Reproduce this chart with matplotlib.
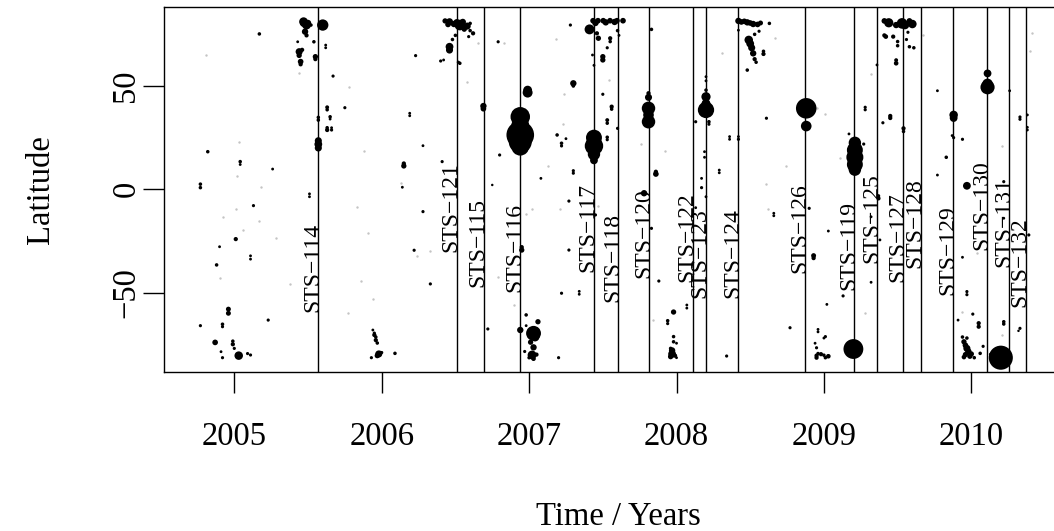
import matplotlib
matplotlib.use('Agg')
import matplotlib.pyplot as plt
import numpy as np

plt.rcParams['font.family'] = ['Liberation Serif', 'DejaVu Serif']

# shuttle launches (decimal year) and the latitude where each label starts
missions = ['STS-114', 'STS-121', 'STS-115', 'STS-116', 'STS-117', 'STS-118', 'STS-120',
            'STS-122', 'STS-123', 'STS-124', 'STS-126', 'STS-119', 'STS-125', 'STS-127',
            'STS-128', 'STS-129', 'STS-130', 'STS-131', 'STS-132']
launch_year = [2005.568, 2006.509, 2006.692, 2006.940, 2007.438, 2007.605, 2007.813,
               2008.110, 2008.198, 2008.419, 2008.874, 2009.206, 2009.360, 2009.537,
               2009.657, 2009.878, 2010.109, 2010.258, 2010.369]
label_lat = [-59.2, -30.2, -47.1, -49.6, -39.9, -54.4, -43.1, -44.7, -52.8, -52.8,
             -40.7, -48.7, -35.8, -44.7, -38.2, -51.2, -29.4, -37.5, -56.8]

# events: (year, latitude, size)
events_2005 = [
    (2004.77, 2.5, 1), (2004.77, 0.8, 1), (2004.82, 18.2, 1), (2005.04, 13.4, 1),
    (2005.04, 12.0, 0.8), (2005.26, 9.8, 0.8), (2005.17, 75.2, 1), (2005.51, -2.2, 0.8),
    (2005.51, -3.6, 0.8), (2005.13, -7.9, 0.9), (2005.01, -24.1, 1.2), (2004.90, -27.8, 0.8),
    (2005.11, -32.2, 0.8), (2005.11, -33.8, 0.8), (2004.88, -36.6, 1.0), (2004.96, -58.0, 1.4),
    (2004.96, -60.0, 1.4), (2005.23, -63.3, 0.9), (2004.77, -66.0, 0.9), (2004.92, -65.3, 1.0),
    (2004.92, -66.5, 0.9), (2004.87, -74.1, 1.6), (2004.99, -75.0, 1.2), (2004.99, -73.5, 1.0),
    (2005.03, -80.5, 2.4), (2004.92, -81.5, 0.9), (2004.91, -78.6, 0.8), (2005.09, -79.5, 0.9),
    (2005.11, -80.2, 0.9), (2005.00, -77.0, 0.9),
]
events_sts114 = [
    (2005.47, 81.1, 2.5), (2005.49, 79.5, 2.5), (2005.47, 80.3, 2), (2005.50, 80.5, 1.8),
    (2005.48, 76.3, 1.8), (2005.49, 74.5, 1.2), (2005.52, 79.5, 1.0), (2005.60, 79.5, 3.2),
    (2005.44, 66.6, 2.0), (2005.44, 64.8, 1.5), (2005.46, 67.5, 1.2), (2005.45, 61.8, 1.6),
    (2005.45, 60.5, 1.2), (2005.55, 64.2, 1.5), (2005.55, 63.0, 1.2), (2005.54, 71.4, 1.0),
    (2005.43, 71.4, 0.8), (2005.62, 69.8, 0.8), (2005.62, 68.5, 0.8), (2005.67, 54.8, 0.9),
    (2005.63, 39.7, 1.1), (2005.63, 38.5, 1.0), (2005.65, 35.1, 1.0), (2005.65, 34.0, 0.8),
    (2005.57, 34.8, 1.0), (2005.57, 33.5, 1.0), (2005.75, 39.5, 0.9), (2005.63, 28.7, 1.2),
    (2005.63, 29.8, 1.0), (2005.66, 28.7, 0.9), (2005.66, 29.8, 0.8), (2005.57, 21.8, 2.2),
    (2005.57, 23.5, 2.0), (2005.57, 20.0, 2.0),
]
events_2006 = [
    (2006.23, 64.7, 0.9), (2006.40, 62.1, 0.9), (2006.19, 36.8, 0.8), (2006.19, 35.6, 0.8),
    (2006.28, 21.1, 0.8), (2006.15, 11.3, 1.5), (2006.15, 12.5, 1.2), (2006.41, 13.4, 0.9),
    (2006.14, 1.0, 0.8), (2006.28, -10.8, 0.9), (2006.22, -29.5, 0.9), (2006.33, -45.8, 0.9),
    (2005.94, -68.1, 0.8), (2005.95, -69.6, 0.9), (2005.95, -70.5, 1.2), (2005.96, -71.5, 1.0),
    (2005.96, -73.0, 1.2), (2005.97, -74.4, 1.0), (2005.98, -79.7, 2.0), (2005.99, -79.2, 1.2),
    (2005.93, -81.5, 0.9), (2005.97, -80.5, 1.5), (2006.09, -79.4, 1.0), (2006.00, -79.0, 0.9),
]
events_sts121 = [
    (2006.46, 81.1, 2.0), (2006.43, 81.5, 1.5), (2006.45, 79.8, 1.6), (2006.49, 80.0, 1.8),
    (2006.53, 79.5, 3.0), (2006.51, 80.7, 2.0), (2006.55, 81.0, 1.8), (2006.58, 79.0, 2.0),
    (2006.56, 77.5, 1.5), (2006.62, 75.5, 1.2), (2006.60, 80.3, 1.0), (2006.46, 69.0, 2.2),
    (2006.46, 67.4, 2.0), (2006.48, 72.5, 1.0), (2006.50, 74.5, 1.0), (2006.53, 61.0, 1.0),
    (2006.52, 61.5, 0.9), (2006.42, 62.6, 0.8), (2006.59, 73.9, 0.9), (2006.60, 76.8, 1.0),
    (2006.69, 40.3, 1.8), (2006.69, 39.0, 1.6), (2006.79, 71.4, 0.9), (2006.72, -67.6, 0.9),
    (2006.80, 16.6, 0.9), (2006.75, 2.1, 0.7),
]
events_sts116 = [
    (2006.94, 35.1, 5.5), (2006.94, 26.3, 7.8), (2006.94, 20.6, 5.0), (2006.94, 31.0, 5.0),
    (2006.94, 23.0, 6.5), (2006.99, 46.8, 2.8), (2006.99, 48.0, 2.5), (2006.95, -29.4, 1.5),
    (2006.95, -28.0, 1.2), (2007.03, -69.7, 4.2), (2007.02, -80.2, 2.5), (2006.94, -68.1, 1.8),
    (2007.06, -64.1, 1.5), (2006.98, -60.8, 1.0), (2007.01, -74.0, 1.5), (2007.03, -76.5, 1.8),
    (2007.04, -71.5, 2.5), (2007.00, -81.5, 1.0), (2006.97, -78.5, 0.9), (2007.05, -80.0, 1.2),
    (2007.03, -82.0, 1.3), (2006.98, -66.0, 0.8), (2007.20, -81.5, 0.9), (2007.22, -50.3, 0.9),
    (2007.27, -5.7, 0.9), (2007.27, -29.4, 0.9), (2007.34, -49.4, 0.8), (2007.34, -50.8, 0.8),
    (2007.28, 79.5, 0.9), (2007.30, 51.3, 1.8), (2007.30, 50.0, 1.0), (2007.19, 26.3, 1.0),
    (2007.22, 22.3, 1.0), (2007.22, 21.0, 0.9), (2007.25, 24.5, 0.8), (2007.08, 5.3, 0.8),
    (2007.30, 9.0, 0.9), (2007.30, 7.8, 0.9),
]
events_sts117 = [
    (2007.44, 25.0, 4.5), (2007.44, 21.0, 5.2), (2007.44, 17.0, 3.5), (2007.44, 14.0, 2.2),
    (2007.41, 77.4, 2.8), (2007.434, 81.6, 1.6), (2007.467, 81.6, 1.6), (2007.503, 81.6, 1.6),
    (2007.549, 81.6, 1.6), (2007.596, 81.6, 1.6), (2007.637, 81.6, 1.6), (2007.45, 80.5, 1.8),
    (2007.52, 80.8, 1.8), (2007.58, 81.0, 1.8), (2007.47, 73.1, 1.5), (2007.46, 75.5, 1.2),
    (2007.55, 73.1, 1.2), (2007.55, 71.5, 1.0), (2007.50, 64.2, 1.5), (2007.50, 62.6, 1.5),
    (2007.43, 65.0, 0.8), (2007.44, 60.0, 0.8), (2007.53, 68.5, 0.9), (2007.60, 76.8, 1.0),
    (2007.61, 74.5, 0.8), (2007.50, 46.0, 0.9), (2007.56, 40.0, 1.2), (2007.56, 38.8, 1.0),
    (2007.53, 33.5, 1.1), (2007.53, 32.0, 1.0), (2007.53, 25.2, 1.0), (2007.53, 24.0, 0.9),
    (2007.60, 29.5, 0.9), (2007.45, -12.4, 0.9),
]
events_sts120 = [
    (2007.81, 39.2, 3.8), (2007.81, 32.7, 3.8), (2007.81, 44.5, 2.0), (2007.81, 36.0, 3.0),
    (2007.81, 46.5, 1.2), (2007.83, 77.4, 1.0), (2007.86, 7.4, 1.6), (2007.86, 8.5, 1.2),
    (2007.78, -1.9, 1.8), (2007.83, -18.9, 0.9), (2007.88, -44.4, 0.9), (2007.98, -59.4, 1.5),
    (2007.94, -63.6, 1.0), (2007.94, -65.0, 0.9), (2008.07, -56.0, 0.8), (2008.07, -57.5, 0.8),
    (2007.97, -79.7, 2.2), (2007.97, -78.0, 1.8), (2007.96, -81.0, 1.5), (2007.99, -80.5, 1.2),
    (2007.98, -73.8, 1.0), (2007.98, -71.3, 1.0), (2008.00, -74.5, 0.8), (2008.00, -81.5, 0.8),
    (2007.96, -77.0, 1.0), (2008.34, -80.7, 0.9),
]
events_sts123 = [
    (2008.20, 38.4, 4.6), (2008.20, 44.8, 2.6), (2008.20, 41.5, 2.5), (2008.20, 48.0, 1.0),
    (2008.20, 54.5, 0.8), (2008.20, 52.5, 0.8), (2008.13, 32.7, 0.9), (2008.22, 32.7, 1.0),
    (2008.22, 31.5, 0.9), (2008.19, 18.2, 0.8), (2008.19, 15.5, 0.8), (2008.17, 5.3, 0.8),
    (2008.29, 8.0, 0.8), (2008.29, 9.3, 0.8), (2008.36, 24.2, 0.8), (2008.36, 25.5, 0.8),
    (2008.42, 24.2, 0.9), (2008.42, 25.5, 0.8), (2008.17, 0.8, 0.9), (2008.20, -3.6, 0.8),
    (2008.13, -8.9, 0.8),
]
events_sts124 = [
    (2008.42, 81.5, 1.8), (2008.44, 81.0, 1.6), (2008.46, 81.3, 1.6), (2008.48, 80.8, 1.8),
    (2008.50, 80.5, 1.6), (2008.52, 80.0, 1.8), (2008.55, 79.8, 1.6), (2008.57, 80.5, 1.4),
    (2008.63, 80.3, 1.0), (2008.49, 72.3, 2.4), (2008.50, 70.5, 2.2), (2008.51, 68.5, 2.0),
    (2008.52, 65.8, 1.8), (2008.53, 63.0, 1.2), (2008.59, 65.5, 1.2), (2008.59, 66.8, 1.0),
    (2008.53, 75.0, 1.0), (2008.56, 76.5, 0.9), (2008.42, 77.0, 0.8), (2008.54, 61.5, 1.0),
    (2008.48, 57.7, 1.0), (2008.61, 34.4, 0.9),
]
events_sts126 = [
    (2008.88, 39.2, 5.8), (2008.88, 30.6, 3.0), (2008.66, -11.6, 0.8), (2008.66, -12.8, 0.8),
    (2008.90, -9.2, 0.9), (2008.93, -32.1, 1.4), (2008.93, -33.3, 1.2), (2009.03, -20.2, 0.8),
    (2008.77, -67.0, 0.9), (2008.96, -67.8, 0.8), (2008.96, -69.0, 0.8), (2009.01, -71.3, 0.9),
    (2009.02, -55.7, 0.8), (2009.13, -51.6, 0.9), (2008.95, -80.5, 1.2), (2008.95, -81.5, 1.2),
    (2008.96, -79.5, 1.0), (2008.98, -79.8, 1.2), (2009.00, -80.3, 1.0), (2009.03, -80.8, 1.3),
    (2009.01, -81.5, 1.0), (2008.94, -74.5, 0.8), (2009.00, -72.0, 0.8), (2008.95, -76.7, 0.9),
]
events_sts119 = [
    (2009.21, 22.5, 3.5), (2009.21, 19.0, 4.5), (2009.21, 15.5, 4.8), (2009.21, 12.0, 4.5),
    (2009.21, 9.5, 3.5), (2009.20, -77.3, 5.6), (2009.23, -76.5, 1.2), (2009.17, 26.8, 0.8),
    (2009.27, 21.9, 0.9), (2009.28, 39.7, 0.9), (2009.28, 38.5, 0.9), (2009.36, 60.2, 0.8),
    (2009.37, -4.4, 1.2), (2009.37, -3.2, 1.0), (2009.32, -13.3, 0.8), (2009.38, -24.5, 0.8),
    (2009.32, -45.0, 0.8), (2009.40, 32.2, 0.9), (2009.45, 35.5, 1.2), (2009.45, 34.5, 1.2),
]
events_sts127 = [
    (2009.44, 80.6, 2.6), (2009.41, 81.5, 1.6), (2009.49, 79.5, 1.8), (2009.53, 80.3, 3.0),
    (2009.55, 79.5, 2.4), (2009.60, 80.0, 2.4), (2009.58, 81.5, 1.6), (2009.42, 73.9, 1.3),
    (2009.41, 74.5, 1.2), (2009.47, 73.9, 1.2), (2009.50, 71.5, 1.0), (2009.50, 69.5, 1.0),
    (2009.58, 69.0, 1.0), (2009.61, 68.5, 1.0), (2009.49, 61.0, 1.3), (2009.49, 62.5, 1.1),
    (2009.56, 72.5, 0.9), (2009.57, 76.0, 0.9), (2009.54, 29.5, 1.2), (2009.54, 28.0, 1.0),
    (2009.77, 47.7, 0.8),
]
events_sts129 = [
    (2009.88, 36.0, 2.4), (2009.88, 34.5, 2.2), (2009.87, 26.0, 0.8), (2009.88, 25.0, 0.9),
    (2009.94, 24.2, 0.9), (2009.83, 15.5, 1.0), (2009.77, 6.9, 0.8), (2009.97, 1.7, 2.2),
    (2009.94, -32.9, 0.8), (2009.97, -51.0, 0.9), (2009.97, -49.5, 0.9), (2010.01, -60.4, 0.9),
    (2009.91, -63.3, 0.8), (2010.05, -64.8, 1.2), (2010.05, -66.5, 1.2), (2009.95, -73.8, 1.5),
    (2009.96, -75.5, 1.6), (2009.97, -77.0, 2.0), (2009.98, -78.5, 1.8), (2009.96, -80.0, 1.5),
    (2009.95, -81.2, 1.3), (2009.99, -80.8, 1.5), (2010.00, -79.7, 1.5), (2009.94, -71.5, 1.0),
    (2009.97, -72.0, 1.0), (2010.02, -81.5, 1.0), (2010.06, -79.4, 1.0), (2010.08, -76.0, 0.9),
    (2010.13, -79.9, 0.9),
]
events_sts130 = [
    (2010.11, 56.1, 2.2), (2010.11, 49.4, 4.0), (2010.11, 51.0, 3.0), (2010.20, -81.5, 6.8),
    (2010.22, 3.7, 0.9), (2010.22, -14.0, 0.8), (2010.22, -64.1, 1.0), (2010.22, -65.2, 1.0),
    (2010.26, 47.7, 0.8), (2010.33, 33.9, 0.9), (2010.33, 35.0, 0.9), (2010.38, 36.0, 0.8),
    (2010.38, 30.0, 0.8), (2010.38, 28.7, 0.8), (2010.33, -67.3, 0.9), (2010.32, -68.5, 0.7),
    (2010.39, -22.1, 0.9),
]

# faint events: (year, latitude)
faint_events = [
    (2004.81, 65.0), (2005.03, 23.0), (2005.02, 6.6), (2005.18, 1.0), (2005.44, 56.4),
    (2005.78, 49.7), (2005.88, 18.7), (2006.13, 2.9), (2005.01, -9.5), (2005.17, -15.2),
    (2005.06, -19.7), (2005.28, -23.4), (2004.92, -13.3), (2004.90, -42.8), (2005.38, -46.0),
    (2005.83, -8.4), (2005.91, -21.0), (2005.86, -44.4), (2005.94, -53.1), (2005.77, -60.0),
    (2006.24, -32.4), (2006.33, -30.0), (2006.58, 52.1), (2006.65, 70.7), (2006.83, 70.7),
    (2007.18, 72.6), (2007.24, 46.0), (2007.23, 31.5), (2007.13, 11.4), (2007.54, 52.9),
    (2007.76, 21.8), (2007.92, 18.7), (2008.31, 66.1), (2006.79, -42.3), (2006.90, -56.0),
    (2007.02, -9.5), (2006.98, -12.0), (2007.21, -9.5), (2007.84, -63.3), (2007.47, -8.0),
    (2008.95, 39.5), (2009.01, 36.4), (2008.74, 11.4), (2008.61, 2.6), (2009.11, 15.0),
    (2009.32, 55.8), (2010.21, 21.0), (2010.41, 75.5), (2010.40, 67.1), (2009.67, 74.7),
    (2008.67, 73.2), (2008.62, -9.5), (2009.28, -60.0), (2009.94, -59.2), (2010.04, -31.0),
    (2010.21, -70.5),
]

groups = [events_2005, events_sts114, events_2006, events_sts121, events_sts116,
          events_sts117, events_sts120, events_sts123, events_sts124, events_sts126,
          events_sts119, events_sts127, events_sts129, events_sts130]
ev = np.array([row for g in groups for row in g])
fa = np.array(faint_events)

fig = plt.figure(figsize=(10.54, 5.31), dpi=100)
ax = fig.add_axes([163.5 / 1054, 1 - 371.7 / 531, (1072 - 163.5) / 1054, 365 / 531])

ax.scatter(fa[:, 0], fa[:, 1], s=3, color='#c4c4c4', linewidths=0, zorder=2)
ax.scatter(ev[:, 0], ev[:, 1], s=(2.55 * ev[:, 2]) ** 2, color='black', linewidths=0, zorder=3)

for name, yr, lat in zip(missions, launch_year, label_lat):
    ax.axvline(yr, color='black', linewidth=1.0, zorder=4)
    ax.text(yr, lat, name.replace('-', '\u2212'), rotation=90, rotation_mode='anchor',
            ha='left', va='baseline', fontsize=17, zorder=5)

ax.set_xlim(2004.5197, 2010.683)
ax.set_ylim(-88.28, 88.38)
ax.set_xticks([2005, 2006, 2007, 2008, 2009, 2010])
ax.set_yticks([-50, 0, 50])
for sp in ax.spines.values():
    sp.set_linewidth(1.0)
ax.tick_params(axis='both', direction='out', length=15, width=1.0, labelsize=23.5)
ax.tick_params(axis='x', pad=21)
ax.tick_params(axis='y', pad=1, labelrotation=90)
for lab in ax.get_yticklabels():
    lab.set_va('center')

fig.text(41 / 1054, 1 - 189.3 / 531, 'Latitude', rotation=90, ha='center', va='center',
         fontsize=23.5)
fig.text(618 / 1054, 1 - 525 / 531, 'Time / Years', ha='center', va='baseline',
         fontsize=23.5)

fig.savefig('out.png', dpi=100)
